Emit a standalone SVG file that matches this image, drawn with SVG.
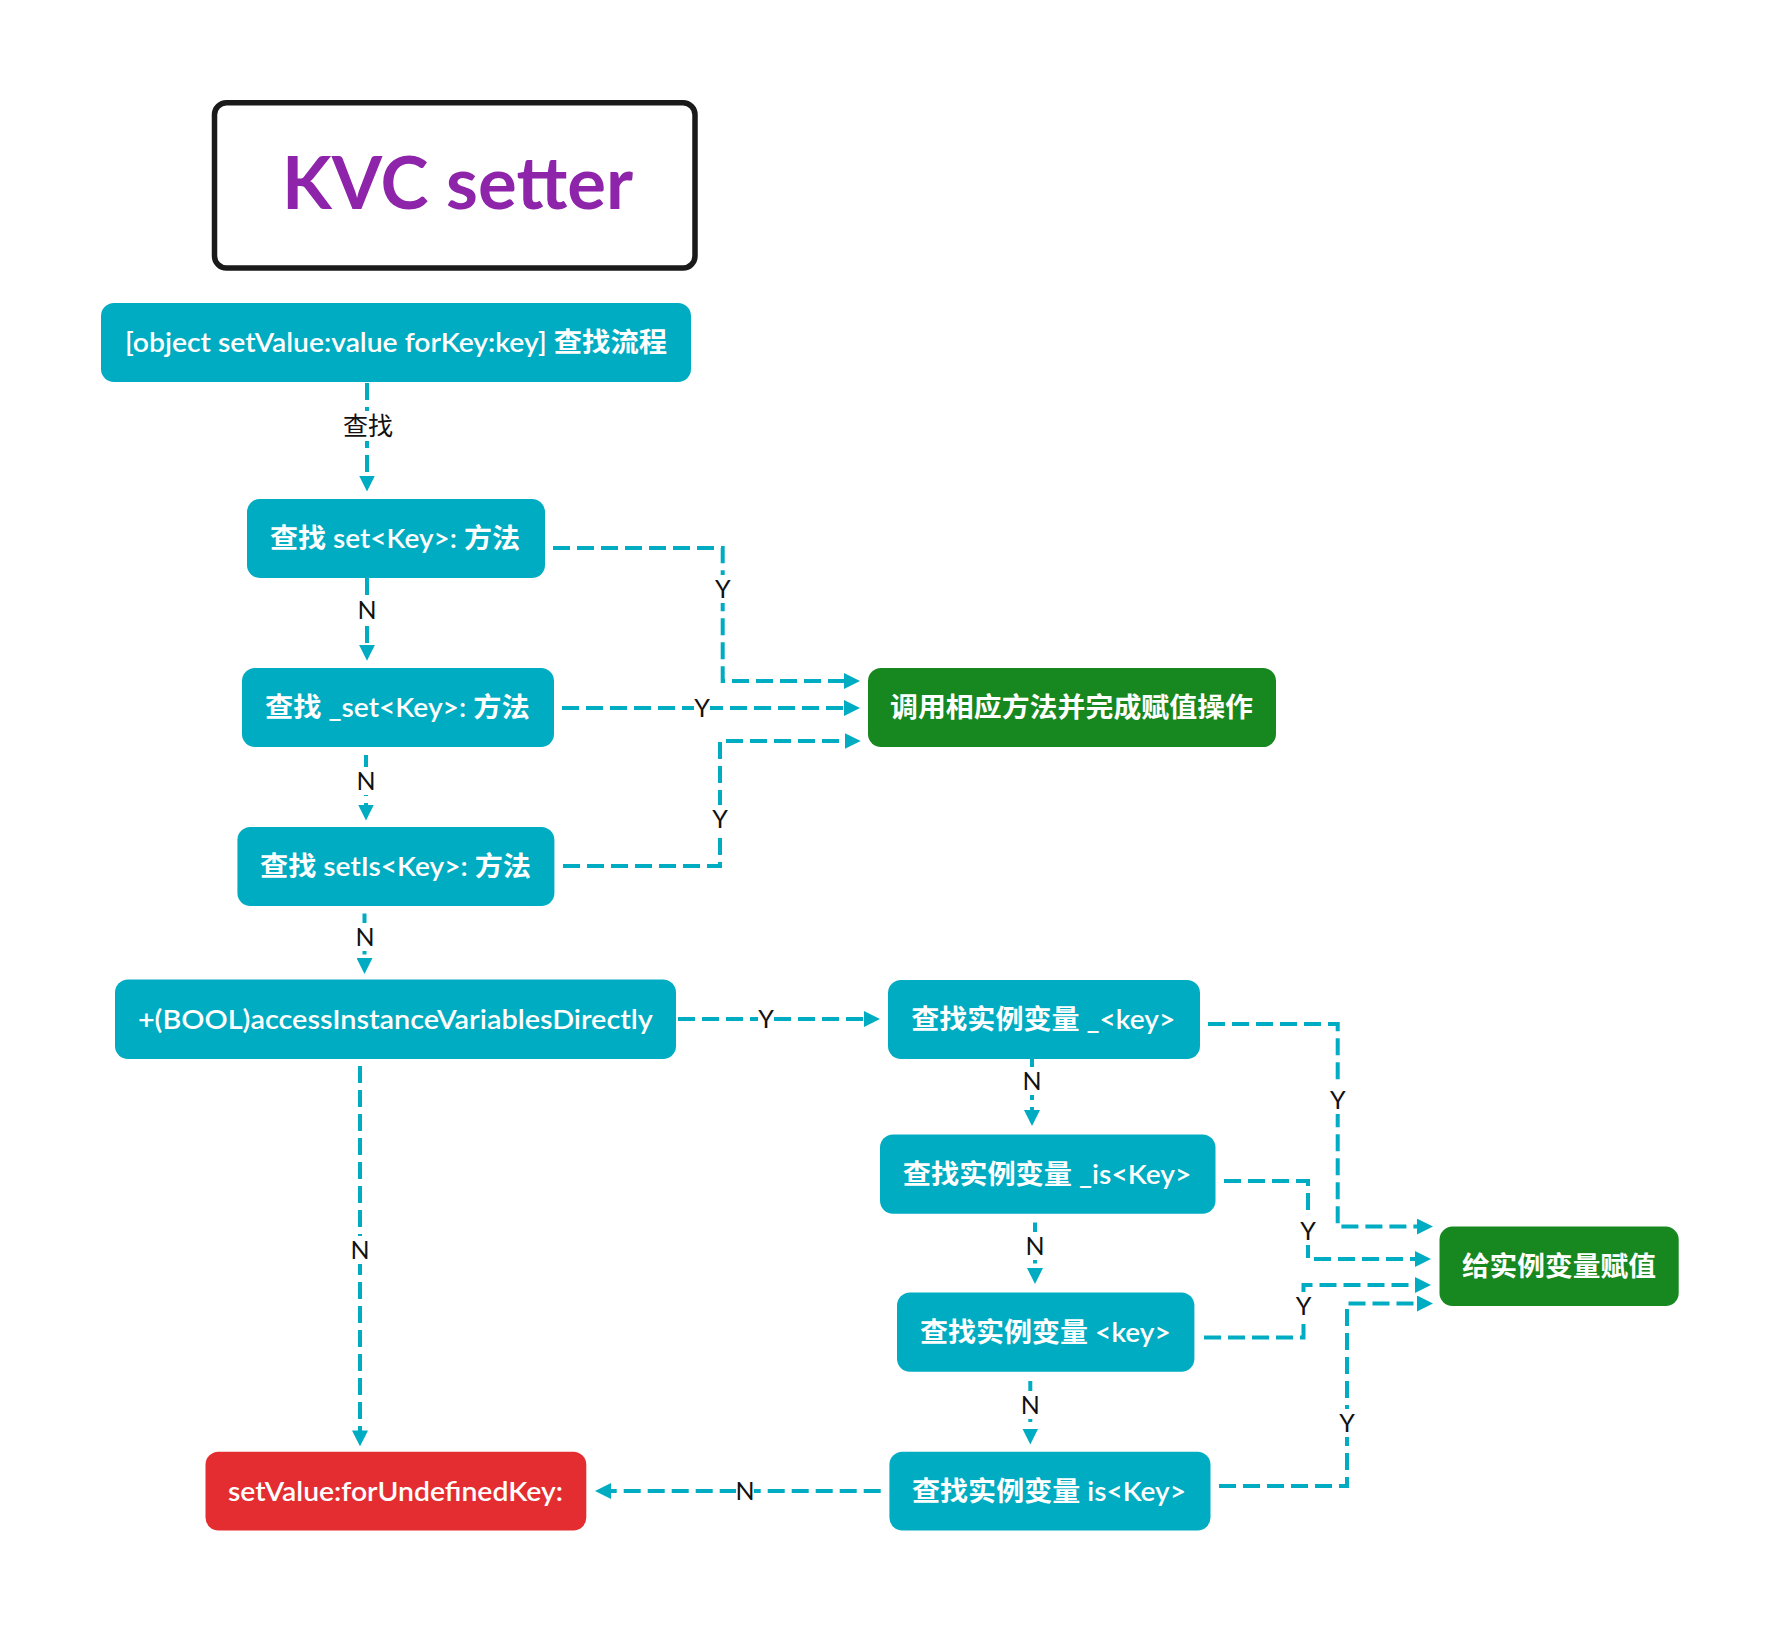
<svg xmlns="http://www.w3.org/2000/svg" width="1780" height="1632" viewBox="0 0 1780 1632">
<style>
  .node { fill: #00ACC1; }
  .ok { fill: #17871F; }
  .bad { fill: #E32D30; }
  .nt { font-family: "Lato", "Noto Sans CJK SC", sans-serif; font-size: 27px; font-weight: 600; fill: #ffffff; text-anchor: middle; }
  .cj { font-weight: 700; }
  .conn { fill: none; stroke: #00ACC1; stroke-width: 4; stroke-dasharray: 17 7; }
  .lbl { font-family: "Lato", "Noto Sans CJK SC", sans-serif; font-size: 25px; font-weight: 400; fill: #111111; text-anchor: middle; }
  .lbg { fill: #ffffff; }
</style>
<defs>
  <marker id="arr" markerUnits="userSpaceOnUse" markerWidth="16" markerHeight="16" refX="8" refY="8" orient="auto">
    <path d="M0,0 L16,8 L0,16 Z" fill="#00ACC1"/>
  </marker>
</defs>
<rect width="1780" height="1632" fill="#ffffff"/>

<g id="title">
  <rect x="214.5" y="102.7" width="480.5" height="165.3" rx="12" fill="#ffffff" stroke="#1a1a1a" stroke-width="5.5"/>
  <text x="457.5" y="208.6" font-family="Lato, 'Noto Sans', sans-serif" font-size="72" font-weight="700" fill="#8E24AA" text-anchor="middle" textLength="351" lengthAdjust="spacingAndGlyphs">KVC setter</text>
</g>

<g id="connectors">
  <path class="conn" d="M367 383 V483.5" marker-end="url(#arr)"/>
  <path class="conn" d="M553 548 H722.7 V681 H852" marker-end="url(#arr)"/>
  <path class="conn" d="M562 708 H852" marker-end="url(#arr)"/>
  <path class="conn" d="M563 866 H720 V741 H852.7" marker-end="url(#arr)"/>
  <path class="conn" d="M367 578 V652.8" marker-end="url(#arr)"/>
  <path class="conn" d="M366 755 V812.5" marker-end="url(#arr)"/>
  <path class="conn" d="M364.5 913.6 V966" marker-end="url(#arr)"/>
  <path class="conn" d="M678 1019 H872" marker-end="url(#arr)"/>
  <path class="conn" d="M360 1066 V1438.4" marker-end="url(#arr)"/>
  <path class="conn" d="M1208 1024 H1337.7 V1226.6 H1425" marker-end="url(#arr)"/>
  <path class="conn" d="M1032 1059 V1118" marker-end="url(#arr)"/>
  <path class="conn" d="M1224 1181 H1308 V1259 H1423" marker-end="url(#arr)"/>
  <path class="conn" d="M1035 1222.5 V1276" marker-end="url(#arr)"/>
  <path class="conn" d="M1204 1337.5 H1303.5 V1285 H1423" marker-end="url(#arr)"/>
  <path class="conn" d="M1030.3 1381 V1436.5" marker-end="url(#arr)"/>
  <path class="conn" d="M1219 1486 H1347 V1303.5 H1425" marker-end="url(#arr)"/>
  <path class="conn" d="M880.7 1491 H603" marker-end="url(#arr)"/>

  <g id="labels">
    <rect class="lbg" x="341" y="411" width="54" height="30"/>
    <text class="lbl" x="368" y="435">查找</text>
    <rect class="lbg" x="357" y="596" width="20" height="28"/>
    <text class="lbl" x="367" y="619">N</text>
    <rect class="lbg" x="356" y="767" width="20" height="28"/>
    <text class="lbl" x="366" y="790">N</text>
    <rect class="lbg" x="355" y="923" width="20" height="28"/>
    <text class="lbl" x="365" y="946">N</text>
    <rect class="lbg" x="350" y="1236" width="20" height="28"/>
    <text class="lbl" x="360" y="1259">N</text>
    <rect class="lbg" x="1022" y="1067" width="20" height="28"/>
    <text class="lbl" x="1032" y="1090">N</text>
    <rect class="lbg" x="1025" y="1232" width="20" height="28"/>
    <text class="lbl" x="1035" y="1255">N</text>
    <rect class="lbg" x="1020" y="1391" width="20" height="28"/>
    <text class="lbl" x="1030.3" y="1414">N</text>
    <rect class="lbg" x="736" y="1479" width="18" height="24"/>
    <text class="lbl" x="745" y="1500">N</text>

    <rect class="lbg" x="713" y="575" width="20" height="28"/>
    <text class="lbl" x="722.7" y="598">Y</text>
    <rect class="lbg" x="694" y="696" width="16" height="24"/>
    <text class="lbl" x="702" y="717">Y</text>
    <rect class="lbg" x="710" y="805" width="20" height="28"/>
    <text class="lbl" x="720" y="828">Y</text>
    <rect class="lbg" x="758" y="1007" width="16" height="24"/>
    <text class="lbl" x="766" y="1028">Y</text>
    <rect class="lbg" x="1328" y="1086" width="20" height="28"/>
    <text class="lbl" x="1337.7" y="1109">Y</text>
    <rect class="lbg" x="1298" y="1217" width="20" height="28"/>
    <text class="lbl" x="1308" y="1240">Y</text>
    <rect class="lbg" x="1293.5" y="1292" width="20" height="28"/>
    <text class="lbl" x="1303.5" y="1315">Y</text>
    <rect class="lbg" x="1337" y="1409" width="20" height="28"/>
    <text class="lbl" x="1347" y="1432">Y</text>
  </g>
</g>

<g id="start">
  <rect class="node" x="101" y="303" width="590" height="79" rx="13"/>
  <text class="nt" x="396" y="351.5" textLength="542" lengthAdjust="spacingAndGlyphs">[object setValue:value forKey:key] <tspan class="cj">查找流程</tspan></text>
</g>
<g id="set-key">
  <rect class="node" x="247" y="499" width="298" height="79" rx="13"/>
  <text class="nt" x="395" y="547.5" textLength="250" lengthAdjust="spacingAndGlyphs"><tspan class="cj">查找</tspan> set&lt;Key&gt;: <tspan class="cj">方法</tspan></text>
</g>
<g id="underscore-set-key">
  <rect class="node" x="242" y="668" width="312" height="79" rx="13"/>
  <text class="nt" x="397.3" y="717" textLength="264.6" lengthAdjust="spacingAndGlyphs"><tspan class="cj">查找</tspan> _set&lt;Key&gt;: <tspan class="cj">方法</tspan></text>
</g>
<g id="set-is-key">
  <rect class="node" x="237.4" y="827" width="317" height="79" rx="13"/>
  <text class="nt" x="395.5" y="876" textLength="271" lengthAdjust="spacingAndGlyphs"><tspan class="cj">查找</tspan> setIs&lt;Key&gt;: <tspan class="cj">方法</tspan></text>
</g>
<g id="access-ivars">
  <rect class="node" x="115" y="979.5" width="561" height="79.5" rx="13"/>
  <text class="nt" x="395.4" y="1028.5" textLength="515" lengthAdjust="spacingAndGlyphs">+(BOOL)accessInstanceVariablesDirectly</text>
</g>
<g id="call-method">
  <rect class="ok" x="868" y="668" width="408" height="79" rx="13"/>
  <text class="nt" x="1071.5" y="717" textLength="363" lengthAdjust="spacingAndGlyphs"><tspan class="cj">调用相应方法并完成赋值操作</tspan></text>
</g>
<g id="ivar-key">
  <rect class="node" x="888" y="980" width="312" height="79" rx="13"/>
  <text class="nt" x="1043.2" y="1029" textLength="264" lengthAdjust="spacingAndGlyphs"><tspan class="cj">查找实例变量</tspan> _&lt;key&gt;</text>
</g>
<g id="ivar-is-key">
  <rect class="node" x="880" y="1134.5" width="335.5" height="79.2" rx="13"/>
  <text class="nt" x="1047.1" y="1183.5" textLength="288.6" lengthAdjust="spacingAndGlyphs"><tspan class="cj">查找实例变量</tspan> _is&lt;Key&gt;</text>
</g>
<g id="ivar-plain-key">
  <rect class="node" x="897" y="1292.5" width="297.4" height="79.2" rx="13"/>
  <text class="nt" x="1045.3" y="1341.5" textLength="250.7" lengthAdjust="spacingAndGlyphs"><tspan class="cj">查找实例变量</tspan> &lt;key&gt;</text>
</g>
<g id="ivar-iskey">
  <rect class="node" x="889.4" y="1451.7" width="321.1" height="78.9" rx="13"/>
  <text class="nt" x="1049" y="1500.5" textLength="274" lengthAdjust="spacingAndGlyphs"><tspan class="cj">查找实例变量</tspan> is&lt;Key&gt;</text>
</g>
<g id="assign-ivar">
  <rect class="ok" x="1439.5" y="1226.6" width="239.2" height="79.4" rx="13"/>
  <text class="nt" x="1558.9" y="1275.5" textLength="194" lengthAdjust="spacingAndGlyphs"><tspan class="cj">给实例变量赋值</tspan></text>
</g>
<g id="undefined-key">
  <rect class="bad" x="205.5" y="1451.7" width="380.8" height="78.9" rx="13"/>
  <text class="nt" x="395.4" y="1500.5" textLength="335" lengthAdjust="spacingAndGlyphs">setValue:forUndefinedKey:</text>
</g>
</svg>
